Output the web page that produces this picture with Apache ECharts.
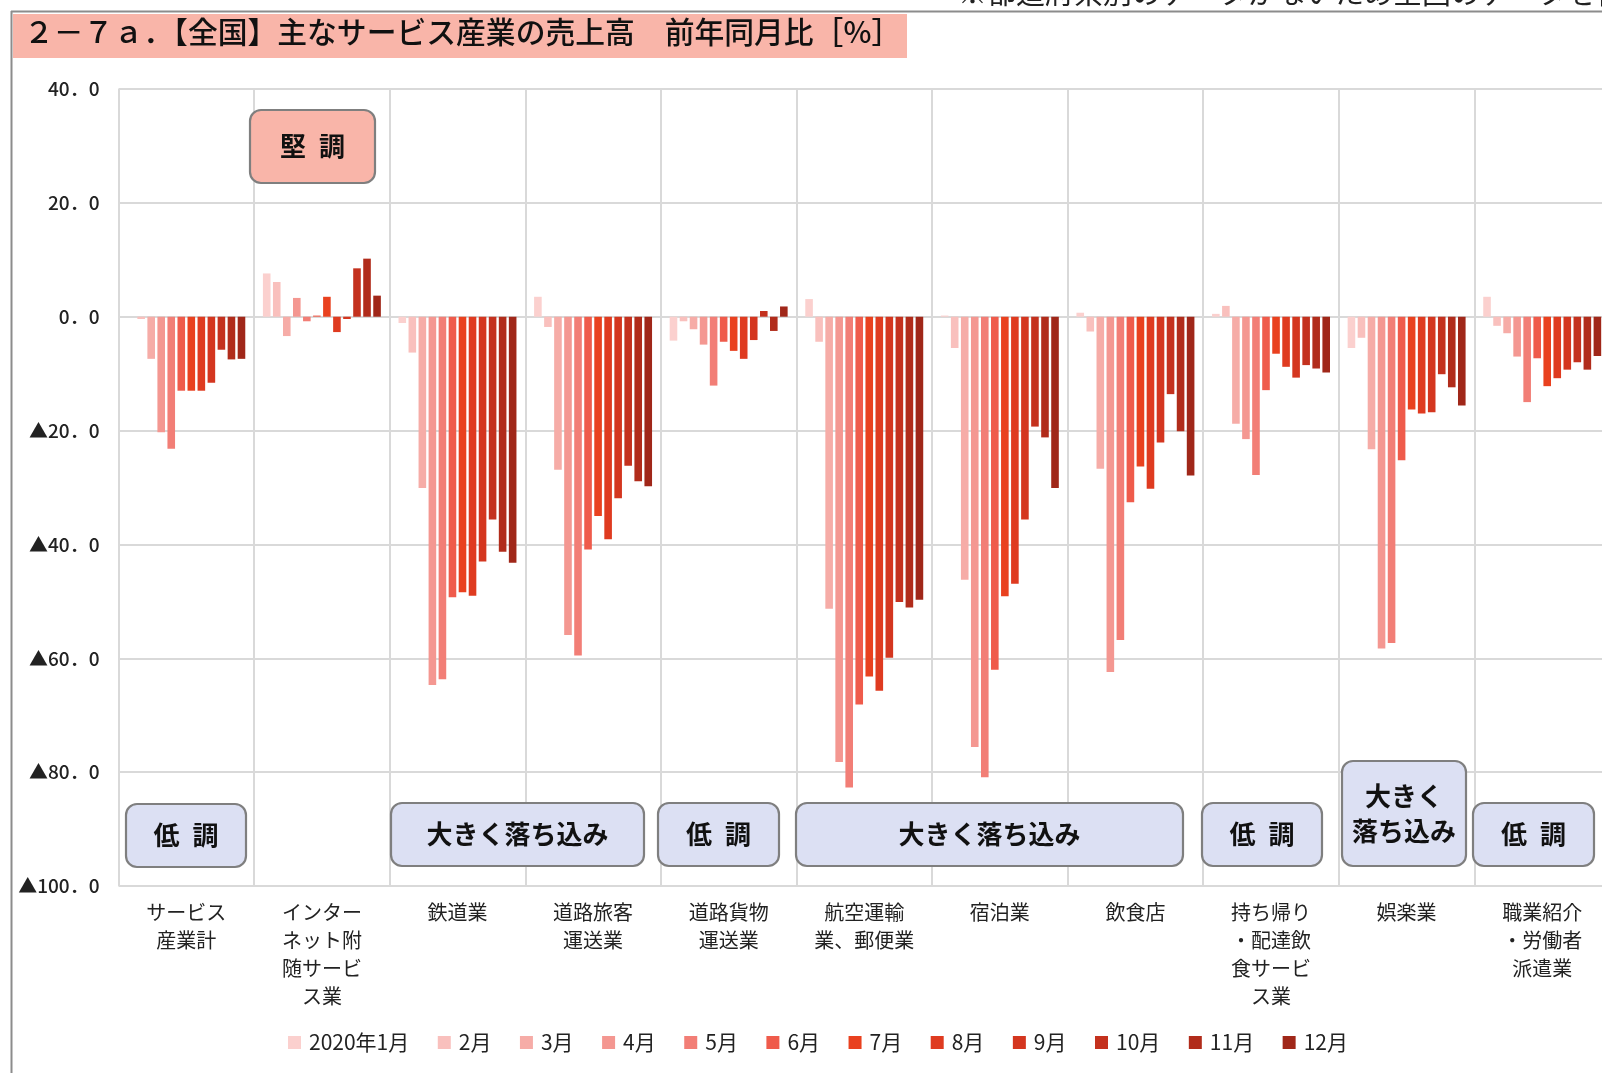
<!DOCTYPE html>
<html>
<head>
<meta charset="utf-8">
<script src="https://cdn.jsdelivr.net/npm/echarts@6.0.0/dist/echarts.min.js"></script>
<style>
    html, body { margin: 0; padding: 0; background: #fff; overflow: hidden; }
    #wrap { width: 1602px; height: 1073px; overflow: hidden; }
    #chart { width: 1620px; height: 1073px; }
</style>
</head>
<body>
<div id="wrap"><div id="chart"></div></div>
<script>
// categories (x axis)
const categories = [
    'サービス\n産業計', 'インター\nネット附\n随サービ\nス業', '鉄道業', '道路旅客\n運送業',
    '道路貨物\n運送業', '航空運輸\n業、郵便業', '宿泊業', '飲食店',
    '持ち帰り\n・配達飲\n食サービ\nス業', '娯楽業', '職業紹介\n・労働者\n派遣業'
]
const months = ['2020年1月', '2月', '3月', '4月', '5月', '6月', '7月', '8月', '9月', '10月', '11月', '12月']
const yTicks = [40, 20, 0, -20, -40, -60, -80, -100]

// year-on-year change [%], Jan..Dec 2020, one array per industry
const serviceTotal = [0.0, -0.4, -7.4, -20.3, -23.2, -13.0, -13.0, -13.0, -11.6, -5.8, -7.5, -7.4]
const internet = [7.6, 6.1, -3.4, 3.3, -0.8, 0.2, 3.5, -2.7, -0.4, 8.5, 10.2, 3.7]
const railway = [-1.1, -6.3, -30.1, -64.7, -63.7, -49.3, -48.4, -49.0, -43.0, -35.6, -41.3, -43.2]
const roadPassenger = [3.5, -1.8, -26.9, -55.9, -59.5, -40.9, -35.0, -39.1, -31.9, -26.2, -28.9, -29.8]
const roadFreight = [-4.2, -0.8, -2.2, -4.9, -12.1, -4.4, -6.0, -7.4, -4.1, 1.0, -2.5, 1.8]
const airPostal = [3.1, -4.4, -51.3, -78.2, -82.7, -68.1, -63.2, -65.7, -59.9, -50.1, -51.1, -49.7]
const hotel = [0.2, -5.5, -46.2, -75.6, -80.9, -62.0, -49.1, -46.9, -35.6, -19.3, -21.2, -30.1]
const restaurant = [0.7, -2.6, -26.7, -62.4, -56.8, -32.6, -26.3, -30.2, -22.1, -13.6, -20.1, -27.9]
const takeout = [0.5, 1.9, -18.8, -21.5, -27.8, -12.9, -6.5, -8.8, -10.7, -8.5, -9.1, -9.8]
const entertainment = [-5.5, -3.7, -23.3, -58.3, -57.3, -25.2, -16.3, -17.0, -16.8, -10.1, -12.4, -15.6]
const staffing = [3.5, -1.6, -2.9, -7.0, -15.0, -7.3, -12.2, -10.8, -9.3, -8.0, -9.3, -6.9]

const byIndustry = [serviceTotal, internet, railway, roadPassenger, roadFreight, airPostal,
    hotel, restaurant, takeout, entertainment, staffing]

const colors = ['#fbd0ce', '#f9c0bd', '#f6aca7', '#f49791', '#f27e76', '#ef5b4b',
    '#e9411f', '#df3b20', '#d4361f', '#c4311e', '#b12c1b', '#a02719']

const jpFont = '"Noto Sans CJK JP", "Noto Sans", sans-serif'

function yLabel(v) {
    const s = Math.abs(v).toFixed(1).replace('.', '．')
    return v < 0 ? '▲' + s : s
}

// rounded comment box with centred bold text
function noteBox(text, x, y, w, h, fill, lineHeight) {
    return {
        type: 'group',
        children: [
            {
                type: 'rect',
                z: 20,
                shape: { x: x, y: y, width: w, height: h, r: 11 },
                style: { fill: fill, stroke: '#7f7f7f', lineWidth: 2.2 }
            },
            {
                type: 'text',
                z: 21,
                x: x + w / 2,
                y: y + h / 2,
                style: {
                    text: text,
                    font: 'bold 26px ' + jpFont,
                    fill: '#111',
                    align: 'center',
                    verticalAlign: 'middle',
                    lineHeight: lineHeight || 30
                }
            }
        ]
    }
}

const chart = echarts.init(document.getElementById('chart'), null, { renderer: 'canvas' })

chart.setOption({
    animation: false,
    backgroundColor: '#fff',
    color: colors,
    textStyle: { fontFamily: jpFont },
    grid: {
        left: 118.5,
        right: 10,
        top: 89,
        bottom: 187,
        containLabel: false,
        outerBoundsMode: 'none'
    },
    legend: {
        left: 283,
        top: 1027,
        itemWidth: 13,
        itemHeight: 13,
        itemGap: 28.5,
        icon: 'rect',
        textStyle: { fontSize: 21, color: '#222', fontFamily: jpFont, padding: [0, 0, 0, 3] },
        data: months
    },
    xAxis: {
        type: 'category',
        data: categories,
        axisLine: { show: false, onZero: false },
        axisTick: { show: false },
        splitLine: { show: true, interval: 0, lineStyle: { color: '#d9d9d9', width: 2 } },
        axisLabel: {
            interval: 0,
            margin: 12,
            fontSize: 20,
            lineHeight: 28,
            color: '#222',
            fontFamily: jpFont,
            align: 'center'
        }
    },
    yAxis: {
        type: 'value',
        min: yTicks[yTicks.length - 1],
        max: yTicks[0],
        interval: 20,
        axisLine: { show: false },
        axisTick: { show: false },
        splitLine: { lineStyle: { color: '#d9d9d9', width: 2 } },
        axisLabel: {
            formatter: yLabel,
            margin: 19,
            fontSize: 19,
            fontWeight: 500,
            color: '#222',
            fontFamily: jpFont
        }
    },
    series: months.map((m, i) => ({
        name: m,
        type: 'bar',
        barWidth: 7.6,
        barGap: '32%',
        data: byIndustry.map(arr => arr[i]),
        itemStyle: { color: colors[i] }
    })),
    graphic: [
        // frame lines
        { type: 'line', shape: { x1: 11, y1: 11.5, x2: 1620, y2: 11.5 }, style: { stroke: '#8c8c8c', lineWidth: 2 }, z: 5 },
        { type: 'line', shape: { x1: 11.5, y1: 11, x2: 11.5, y2: 1073 }, style: { stroke: '#8c8c8c', lineWidth: 2 }, z: 5 },
        // note above the frame (cut off at the top)
        {
            type: 'text', left: 958, top: -22,
            style: { text: '※都道府県別のデータがないため全国のデータを使用', font: '29px ' + jpFont, fill: '#222' }
        },
        // title bar
        { type: 'rect', shape: { x: 13, y: 14, width: 894, height: 44 }, style: { fill: '#f9b5a9' }, z: 4 },
        {
            type: 'text', left: 24, top: 17, z: 6,
            style: { text: '２－７ａ．【全国】主なサービス産業の売上高　前年同月比［%］', font: '500 29.8px ' + jpFont, fill: '#111' }
        },
        noteBox('低\u2002調', 126, 804, 120, 63, '#dce0f3'),
        noteBox('堅\u2002調', 250, 110, 125, 73, '#f9b5a9'),
        noteBox('大きく落ち込み', 391, 803, 253, 63, '#dce0f3'),
        noteBox('低\u2002調', 658, 803, 121, 63, '#dce0f3'),
        noteBox('大きく落ち込み', 796, 803, 387, 63, '#dce0f3'),
        noteBox('低\u2002調', 1202, 803, 120, 63, '#dce0f3'),
        noteBox('大きく\n落ち込み', 1342, 761, 124, 105, '#dce0f3', 35),
        noteBox('低\u2002調', 1473, 803, 121, 63, '#dce0f3')
    ]
})
</script>
</body>
</html>
